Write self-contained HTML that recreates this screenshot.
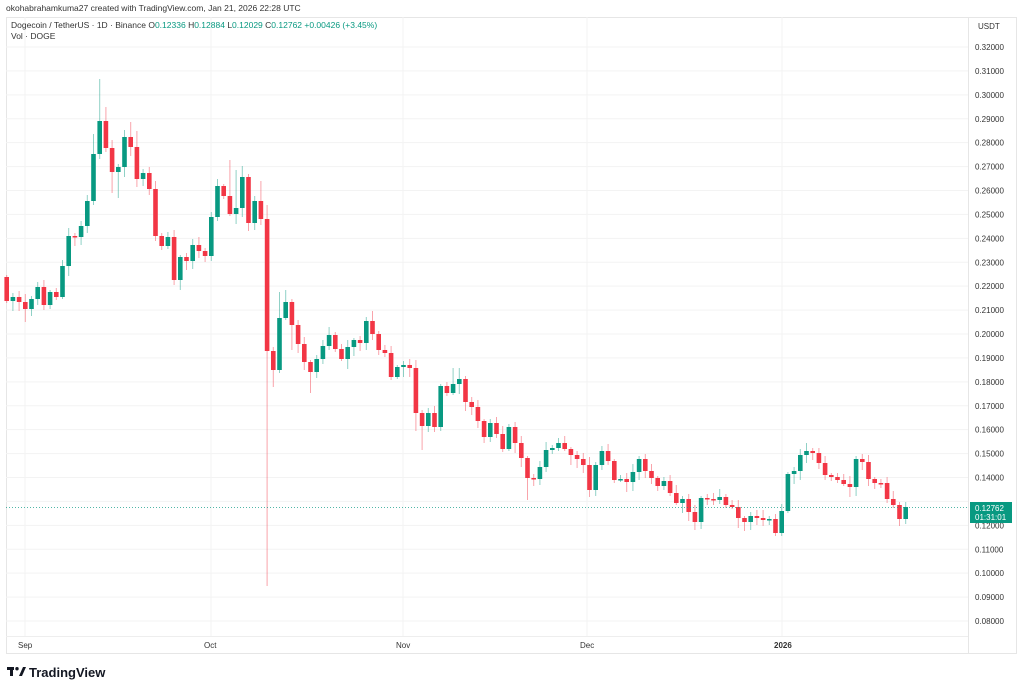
<!DOCTYPE html>
<html><head><meta charset="utf-8"><style>
body{margin:0;background:#fff;width:1024px;height:691px;overflow:hidden;font-family:"Liberation Sans",sans-serif}
</style></head><body>
<svg id="s" width="1024" height="691" xmlns="http://www.w3.org/2000/svg" font-family="Liberation Sans, sans-serif">
<rect x="0" y="0" width="1024" height="691" fill="#fff"/>
<text x="6" y="11" font-size="8.5" fill="#333">okohabrahamkuma27 created with TradingView.com, Jan 21, 2026 22:28 UTC</text>
<rect x="6.5" y="17.5" width="1010" height="636" fill="none" stroke="#e6e6e6"/>
<line x1="968.5" y1="17" x2="968.5" y2="654" stroke="#e6e6e6"/>
<line x1="6" y1="636.5" x2="968" y2="636.5" stroke="#eee"/>
<g id="grid"></g>
<g id="c"></g>
<text x="11" y="28" font-size="8.5" fill="#333">Dogecoin / TetherUS · 1D · Binance <tspan fill="#333">O</tspan><tspan fill="#089981">0.12336</tspan> <tspan>H</tspan><tspan fill="#089981">0.12884</tspan> <tspan>L</tspan><tspan fill="#089981">0.12029</tspan> <tspan>C</tspan><tspan fill="#089981">0.12762  +0.00426 (+3.45%)</tspan></text>
<text x="11" y="39" font-size="8.5" fill="#333">Vol · DOGE</text>
<text x="978" y="29" font-size="8" fill="#333">USDT</text>
<g id="ax" font-size="8" fill="#333"></g>
<line x1="6" y1="507.5" x2="968" y2="507.5" stroke="#089981" stroke-opacity="0.7" stroke-dasharray="1,2" stroke-width="1"/>
<rect x="970" y="502" width="42" height="21" fill="#089981"/>
<text x="975" y="511" font-size="8" fill="#fff">0.12762</text>
<text x="975" y="520" font-size="8" fill="#fff">01:31:01</text>
<g font-size="8" fill="#333">
<text x="18" y="648">Sep</text><text x="204" y="648">Oct</text><text x="396" y="648">Nov</text><text x="580" y="648">Dec</text><text x="774" y="648" font-weight="bold">2026</text>
</g>
<g transform="translate(7,667)"><rect x="0" y="0" width="7" height="3" fill="#131722"/><rect x="3" y="0" width="3" height="9" fill="#131722"/><circle cx="10" cy="1.7" r="1.7" fill="#131722"/><path d="M12 9 L16 0 L19 0 L15 9 Z" fill="#131722"/></g>
<text x="29" y="677" font-size="13" font-weight="bold" fill="#131722">TradingView</text>
</svg>
<script>
(function(){
var ns="http://www.w3.org/2000/svg";
function el(p,t,a){var e=document.createElementNS(ns,t);for(var k in a)e.setAttribute(k,a[k]);p.appendChild(e);return e;}
var g=document.getElementById('grid'),ax=document.getElementById('ax'),cg=document.getElementById('c');
for(var k=0;k<=24;k++){var y=47+k*23.917;var p=(0.32-k*0.01).toFixed(5);
 el(g,'line',{x1:6,x2:968,y1:y,y2:y,stroke:'#f3f3f3'});
 if(Math.abs(y-507)>8){var t=el(ax,'text',{x:975,y:y+3});t.textContent=p;}}
[25,211,403,587,782].forEach(function(x){el(g,'line',{x1:x,x2:x,y1:17,y2:636,stroke:'#f3f3f3'});});
var C=[301,297,302,309,299,287,305,292,297,266,236,237,226,201,154,121,148,172,167,137,147,179,173,189,236,246,237,280,257,261,245,251,256,217,186,196,214,208,177,223,201,219,
351,370,318,302,325,344,362,372,359,346,335,349,359,347,340,343,321,334,350,353,377,367,365,368,413,426,413,427,386,393,384,379,402,407,421,437,423,434,449,427,443,458,478,479,467,450,448,443,
449,455,459,465,490,465,451,461,480,479,482,472,459,471,478,486,481,493,503,499,512,522,498,499,500,497,505,507,518,522,516,518,520,519,533,511,474,471,455,451,453,463,475,477,480,484,487,459,462,479,483,483,499,505,519,507];
var H={15:79,14:134,13:195,16:107,19:130,20:122,21:131,36:160,38:166,37:170,41:181,42:205,44:292,45:290,58:317,59:311,72:368,73:368};
var L={42:586,46:350,14:205,17:193,18:198,27:285,43:387,49:393,66:431,67:450,84:500,124:536,145:524,144:526,6:310,3:322};
var prev=277;
for(var i=0;i<C.length;i++){var o=prev,c=C[i],x=6.7+6.2*i;var up=c<o;
 var col=up?'#089981':'#f23645';
 var r1=((i*37)%7)+2,r2=((i*53)%9)+2;
 var hi=H[i]!==undefined?H[i]:Math.min(o,c)-r1, lo=L[i]!==undefined?L[i]:Math.max(o,c)+r2;
 el(cg,'line',{x1:x,x2:x,y1:hi,y2:lo,stroke:col,'stroke-opacity':0.45,'stroke-width':1});
 var bt=Math.min(o,c),h=Math.max(1.5,Math.abs(o-c));
 el(cg,'rect',{x:x-2.3,y:bt,width:4.6,height:h,fill:col});
 prev=c;}
})();
</script>
</body></html>
